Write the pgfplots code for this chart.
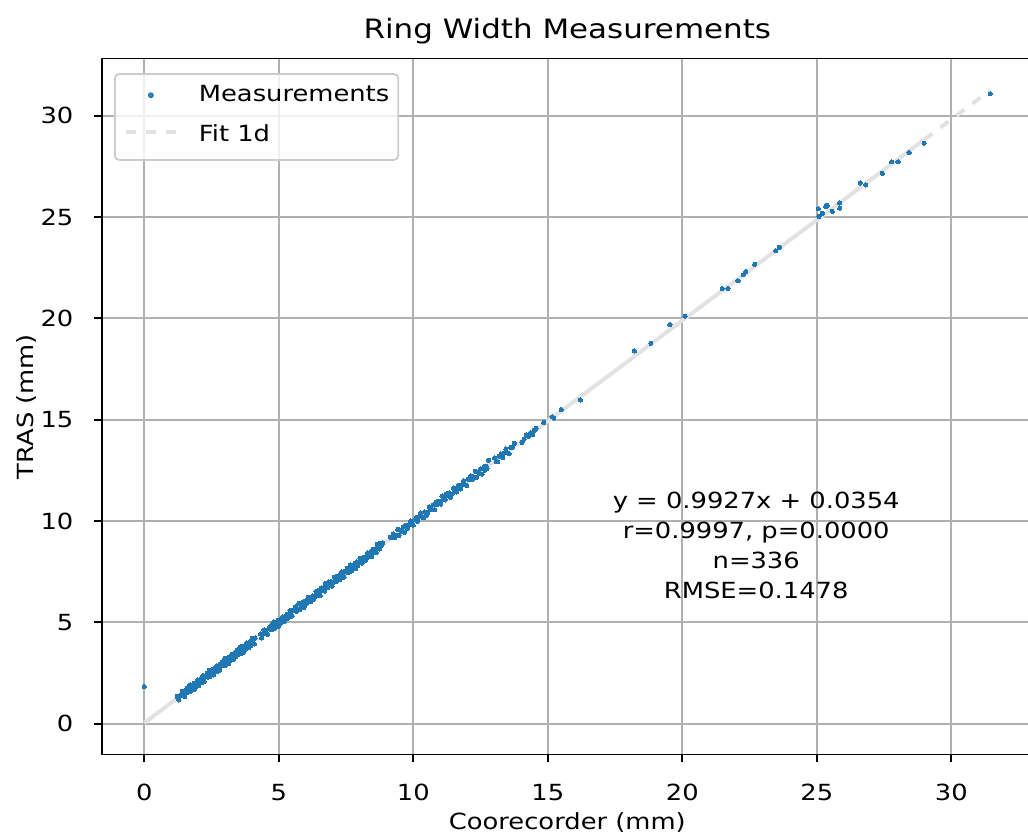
\documentclass[border=0pt]{standalone}
\usepackage{fontspec}
\setmainfont{DejaVu Sans}[FakeStretch=1.16]
\usepackage{pgfplots}
\pgfplotsset{compat=1.18}
\definecolor{c0}{HTML}{1F77B4}
\definecolor{fitc}{RGB}{226,226,226}
\definecolor{gridc}{HTML}{B0B0B0}
\definecolor{legc}{HTML}{CCCCCC}
\begin{document}
\begin{tikzpicture}
\begin{axis}[
  name=ax,
  scale only axis,
  width=418.8pt, height=313.2pt,
  xmin=-1.5725, xmax=33.0225, ymin=-1.526, ymax=32.817,
  xtick={0,5,...,30}, ytick={0,5,...,30},
  xtick pos=left, ytick pos=left,
  grid=major,
  major grid style={color=gridc, line width=0.8pt},
  axis line style={line width=0.8pt, black},
  tick align=outside, major tick length=3.5pt,
  tick style={black, line width=0.8pt},
  /pgf/number format/assume math mode=true,
  xticklabel style={anchor=north, inner sep=0pt, yshift=-9.6pt, font=\fontsize{10}{12}\selectfont},
  yticklabel style={anchor=east, inner sep=0pt, xshift=-9.2pt, font=\fontsize{10}{12}\selectfont},
  every axis title/.style={at={(axis description cs:0.5,1)}, anchor=base, yshift=8.96pt, inner sep=0pt, font=\fontsize{12}{14.4}\selectfont},
  every axis x label/.style={at={(axis description cs:0.5,0)}, anchor=base, yshift=-33.6pt, inner sep=0pt},
  every axis y label/.style={at={(axis description cs:0,0.5)}, rotate=90, anchor=base, yshift=30.8pt, inner sep=0pt},
  title={Ring Width Measurements},
  xlabel={Coorecorder (mm)},
  ylabel={TRAS (mm)},
  legend style={at={(axis description cs:0,1)}, anchor=north west, xshift=5.4pt, yshift=-6.5pt,
    draw=legc, line width=0.8pt, rounded corners=2pt, fill=white, fill opacity=0.8, text opacity=1,
    inner xsep=4.05pt, inner ysep=5.5pt, row sep=7.7pt, column sep=9.45pt,
    cells={anchor=base west}, nodes={inner sep=0pt, text height=7pt, text depth=3pt}},
]
\addlegendimage{only marks, mark=*, mark size=0.9pt, color=c0,
  legend image code/.code={\path (0pt,0pt) (22.5pt,0pt); \draw[mark=*, mark size=0.9pt, c0, only marks] plot coordinates {(11.25pt,2.9pt)};}}
\addlegendentry{Measurements}
\addlegendimage{fitc, line width=1.8pt,
  legend image code/.code={\draw[fitc, line width=1.8pt, dash pattern=on 4.5pt off 4.5pt] (0pt,4pt) -- (22.5pt,4pt);}}
\addlegendentry{Fit 1d}

\addplot[fitc, line width=1.8pt, forget plot] coordinates {(0,0.0354) (29,28.824)};
\addplot[fitc, line width=1.8pt, dash pattern=on 4.5pt off 4.5pt, forget plot] coordinates {(29,28.824) (31.45,31.256)};

\addplot[only marks, mark=*, mark size=0.95pt, color=c0, mark options={line width=0pt}, forget plot] coordinates {
(0.00,1.83)
(1.22,1.34) (1.28,1.17) (1.35,1.40) (1.41,1.60) (1.46,1.41) (1.50,1.34) (1.55,1.65) (1.58,1.61)
(1.60,1.76) (1.63,1.55) (1.67,1.67) (1.70,1.92) (1.74,1.61) (1.78,1.86) (1.81,1.78) (1.85,1.99)
(1.88,1.70) (1.90,2.01) (1.92,1.83) (1.95,1.99) (1.99,2.16) (2.00,1.94) (2.02,1.88) (2.06,2.13)
(2.09,2.21) (2.13,2.02) (2.16,2.21) (2.18,2.37) (2.20,2.15) (2.23,2.07) (2.27,2.37) (2.30,2.33)
(2.34,2.50) (2.37,2.29) (2.40,2.40) (2.41,2.63) (2.44,2.31) (2.48,2.56) (2.51,2.48) (2.55,2.69)
(2.58,2.40) (2.59,2.70) (2.62,2.53) (2.65,2.69) (2.69,2.86) (2.70,2.64) (2.72,2.58) (2.76,2.83)
(2.79,2.74) (2.80,2.64) (2.83,2.93) (2.86,2.89) (2.90,3.06) (2.93,2.85) (2.97,2.97) (3.00,3.22)
(3.01,2.88) (3.04,3.12) (3.07,3.04) (3.11,3.25) (3.14,2.96) (3.18,3.29) (3.20,3.11) (3.21,3.25)
(3.25,3.42) (3.28,3.22) (3.32,3.18) (3.35,3.42) (3.39,3.51) (3.40,3.29) (3.42,3.47) (3.46,3.65)
(3.49,3.65) (3.50,3.42) (3.53,3.53) (3.56,3.78) (3.60,3.47) (3.61,3.69) (3.63,3.60) (3.67,3.81)
(3.70,3.52) (3.74,3.85) (3.77,3.68) (3.80,3.84) (3.81,3.98) (3.84,3.78) (3.88,3.74) (3.91,3.98)
(3.95,4.07) (3.96,3.85) (3.98,4.03) (4.02,4.21) (4.05,4.00) (4.09,3.93) (4.12,4.22)
(4.32,4.42) (4.36,4.23) (4.40,4.43) (4.45,4.62) (4.52,4.45) (4.58,4.40) (4.62,4.70) (4.66,4.67)
(4.70,4.84) (4.74,4.64) (4.78,4.76) (4.82,5.02) (4.86,4.71) (4.90,4.96) (4.94,4.89) (4.97,5.09)
(5.00,4.80) (5.03,5.12)
(5.06,4.94) (5.10,5.11) (5.14,5.28) (5.18,5.09) (5.22,5.05) (5.26,5.30) (5.30,5.39) (5.34,5.20)
(5.38,5.40) (5.42,5.58) (5.46,5.38) (5.50,5.31) (5.54,5.61) (5.58,5.58) (5.62,5.75) (5.66,5.55)
(5.70,5.67) (5.74,5.93) (5.78,5.62) (5.82,5.87) (5.86,5.80) (5.90,6.01) (5.94,5.73) (5.98,6.06)
(6.02,5.90) (6.06,6.07) (6.10,6.24) (6.14,6.05) (6.18,6.01) (6.22,6.26)
(6.26,6.30) (6.30,6.13) (6.34,6.25) (6.38,6.52) (6.42,6.43) (6.46,6.34) (6.50,6.58) (6.54,6.33)
(6.58,6.69) (6.62,6.56) (6.66,6.71) (6.70,6.54) (6.74,6.93) (6.78,6.75) (6.82,6.71) (6.86,6.99)
(6.90,6.90) (6.94,7.01) (6.98,6.79) (7.02,6.94) (7.06,7.22) (7.10,7.12) (7.14,7.00) (7.18,7.27)
(7.22,7.30) (7.26,7.11) (7.30,7.31) (7.34,7.49) (7.38,7.29) (7.42,7.22) (7.46,7.52) (7.50,7.49)
(7.54,7.66) (7.58,7.46) (7.62,7.58) (7.66,7.84) (7.70,7.53) (7.74,7.78) (7.78,7.71) (7.82,7.92)
(7.86,7.64) (7.90,7.97) (7.94,7.81) (7.98,7.98) (8.02,8.15) (8.06,7.96) (8.10,7.92) (8.14,8.17)
(8.18,8.21) (8.22,8.04) (8.26,8.16) (8.30,8.43) (8.34,8.34) (8.38,8.25) (8.42,8.49) (8.46,8.24)
(8.50,8.60) (8.54,8.47) (8.58,8.62) (8.62,8.45) (8.66,8.84) (8.70,8.66) (8.74,8.62) (8.78,8.90)
(8.82,8.81) (8.86,8.92)
(9.15,9.19) (9.20,9.17) (9.26,9.36) (9.31,9.17) (9.36,9.30) (9.42,9.58) (9.47,9.28) (9.52,9.54)
(9.58,9.49) (9.63,9.71) (9.68,9.44) (9.74,9.79) (9.79,9.64) (9.84,9.82) (9.90,10.01) (9.95,9.83)
(10.00,9.80) (10.06,10.07) (10.11,10.17) (10.16,9.99) (10.22,10.21) (10.27,10.40) (10.32,10.21) (10.38,10.16)
(10.43,10.44) (10.48,10.28) (10.54,10.42) (10.59,10.70) (10.64,10.62) (10.70,10.55) (10.75,10.80) (10.80,10.56)
(10.86,10.94) (10.91,10.82) (10.96,10.98) (11.02,10.83) (11.07,11.23) (11.12,11.06) (11.18,11.04) (11.23,11.33)
(11.28,11.25) (11.34,11.38) (11.39,11.17) (11.44,11.33) (11.50,11.63) (11.55,11.54) (11.60,11.43) (11.66,11.72)
(11.71,11.76) (11.76,11.58) (11.82,11.80) (11.87,11.99) (11.92,11.80) (11.98,11.75) (12.03,12.06) (12.08,12.04)
(12.14,12.23) (12.19,12.04) (12.24,12.17) (12.30,12.45) (12.35,12.15) (12.40,12.41) (12.46,12.36) (12.51,12.58)
(12.56,12.31) (12.62,12.66) (12.67,12.51) (12.72,12.69) (12.74,12.59) (12.80,13.00)
(13.02,13.11) (13.08,12.94) (13.14,12.92) (13.20,13.19) (13.26,13.30) (13.32,13.13) (13.38,13.35) (13.44,13.55)
(13.50,13.37) (13.56,13.32) (13.62,13.64) (13.70,13.65) (13.76,13.84) (14.04,13.88) (14.12,14.04) (14.20,14.26)
(14.28,14.17) (14.36,14.36) (14.44,14.26) (14.50,14.48)
(14.56,14.57) (14.85,14.86) (15.16,15.14) (15.22,15.08) (15.50,15.50) (16.21,15.97)
(18.22,18.39) (18.83,18.77) (19.54,19.69) (20.10,20.10) (21.49,21.47) (21.70,21.47) (22.07,21.85)
(22.27,22.15) (22.36,22.31) (22.69,22.67) (23.47,23.33) (23.61,23.51) (25.06,25.41) (25.08,25.03)
(25.21,25.19) (25.33,25.52) (25.39,25.57) (25.58,25.28) (25.85,25.69) (25.85,25.44) (26.61,26.68)
(26.82,26.58) (27.44,27.15) (27.78,27.72) (28.02,27.72) (28.43,28.18) (28.99,28.64) (31.45,31.08)
};

\node[align=center, inner sep=0pt, anchor=center, font=\fontsize{10}{13.5}\selectfont]
  at (axis description cs:0.703,0.301)
  {y = 0.9927x + 0.0354\\r=0.9997, p=0.0000\\n=336\\RMSE=0.1478};
\end{axis}
\pgfresetboundingbox
\useasboundingbox ([xshift=-45.9pt,yshift=-37.53pt]ax.south west) rectangle ([xshift=-2.07pt,yshift=26.37pt]ax.north east);
\end{tikzpicture}
\end{document}
